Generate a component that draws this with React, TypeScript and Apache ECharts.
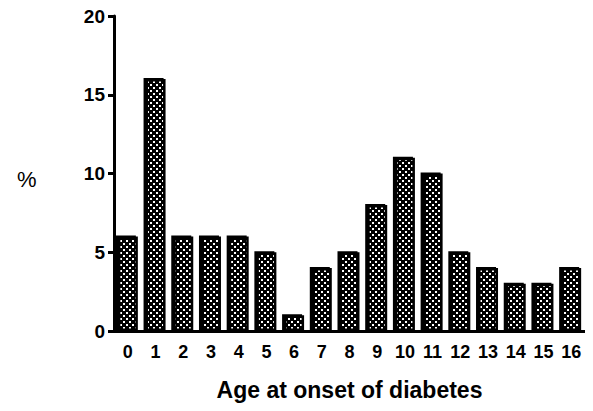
import React, { useEffect, useRef } from "react";
import * as echarts from "echarts";

const categories = ["0", "1", "2", "3", "4", "5", "6", "7", "8", "9", "10", "11", "12", "13", "14", "15", "16"];
const values = [6, 16, 6, 6, 6, 5, 1, 4, 5, 8, 11, 10, 5, 4, 3, 3, 4];
const yTicks = [0, 5, 10, 15, 20];
const xTitle = "Age at onset of diabetes";
const yTitle = "%";

function makePattern(): string {
  const c = document.createElement("canvas");
  c.width = 6;
  c.height = 6;
  const ctx = c.getContext("2d")!;
  ctx.fillStyle = "#000";
  ctx.fillRect(0, 0, 6, 6);
  ctx.fillStyle = "#fff";
  ctx.fillRect(0, 0, 2, 2);
  ctx.fillRect(3, 3, 2, 2);
  return c.toDataURL();
}

export default function App() {
  const ref = useRef<HTMLDivElement>(null);
  useEffect(() => {
    const chart = echarts.init(ref.current!, undefined, { renderer: "svg" });
    const pattern = makePattern();
    const font = "'Liberation Sans', Arial, sans-serif";
    chart.setOption({
      animation: false,
      grid: { left: 114, top: 16, width: 471, height: 315, containLabel: false, outerBoundsMode: "none" },
      xAxis: {
        type: "category",
        data: categories,
        name: xTitle,
        nameLocation: "middle",
        nameGap: 47,
        nameTextStyle: { fontFamily: font, fontWeight: "bold", fontSize: 23, color: "#000" },
        axisLine: { lineStyle: { color: "#000", width: 3 } },
        axisTick: { alignWithLabel: true, length: 8, lineStyle: { color: "#000", width: 3 } },
        axisLabel: { fontFamily: font, fontWeight: "bold", fontSize: 18, color: "#000", margin: 12, interval: 0 },
      },
      yAxis: {
        type: "value",
        min: yTicks[0],
        max: yTicks[yTicks.length - 1],
        interval: 5,
        axisLine: { show: true, lineStyle: { color: "#000", width: 3 } },
        axisTick: { show: true, length: 6, lineStyle: { color: "#000", width: 3 } },
        axisLabel: { fontFamily: font, fontWeight: "bold", fontSize: 19, color: "#000", margin: 9 },
        splitLine: { show: false },
      },
      graphic: [
        {
          type: "text",
          left: 17,
          top: 168,
          style: { text: yTitle, fontFamily: font, fontSize: 22, fill: "#000" },
        },
        {
          type: "line",
          shape: { x1: 585, y1: 331, x2: 591, y2: 331 },
          style: { stroke: "#000", lineWidth: 3 },
        },
      ],
      series: [
        {
          type: "bar",
          data: values,
          barWidth: 20,
          itemStyle: {
            color: { image: pattern, repeat: "repeat" },
            borderColor: "#000",
            borderWidth: 2.5,
            shadowColor: "#000",
            shadowBlur: 0,
            shadowOffsetX: -2,
            shadowOffsetY: -1,
          },
        },
      ],
    });
    return () => chart.dispose();
  }, []);
  return <div ref={ref} style={{ width: 593, height: 411, marginTop: -8, marginLeft: -8 }} />;
}
